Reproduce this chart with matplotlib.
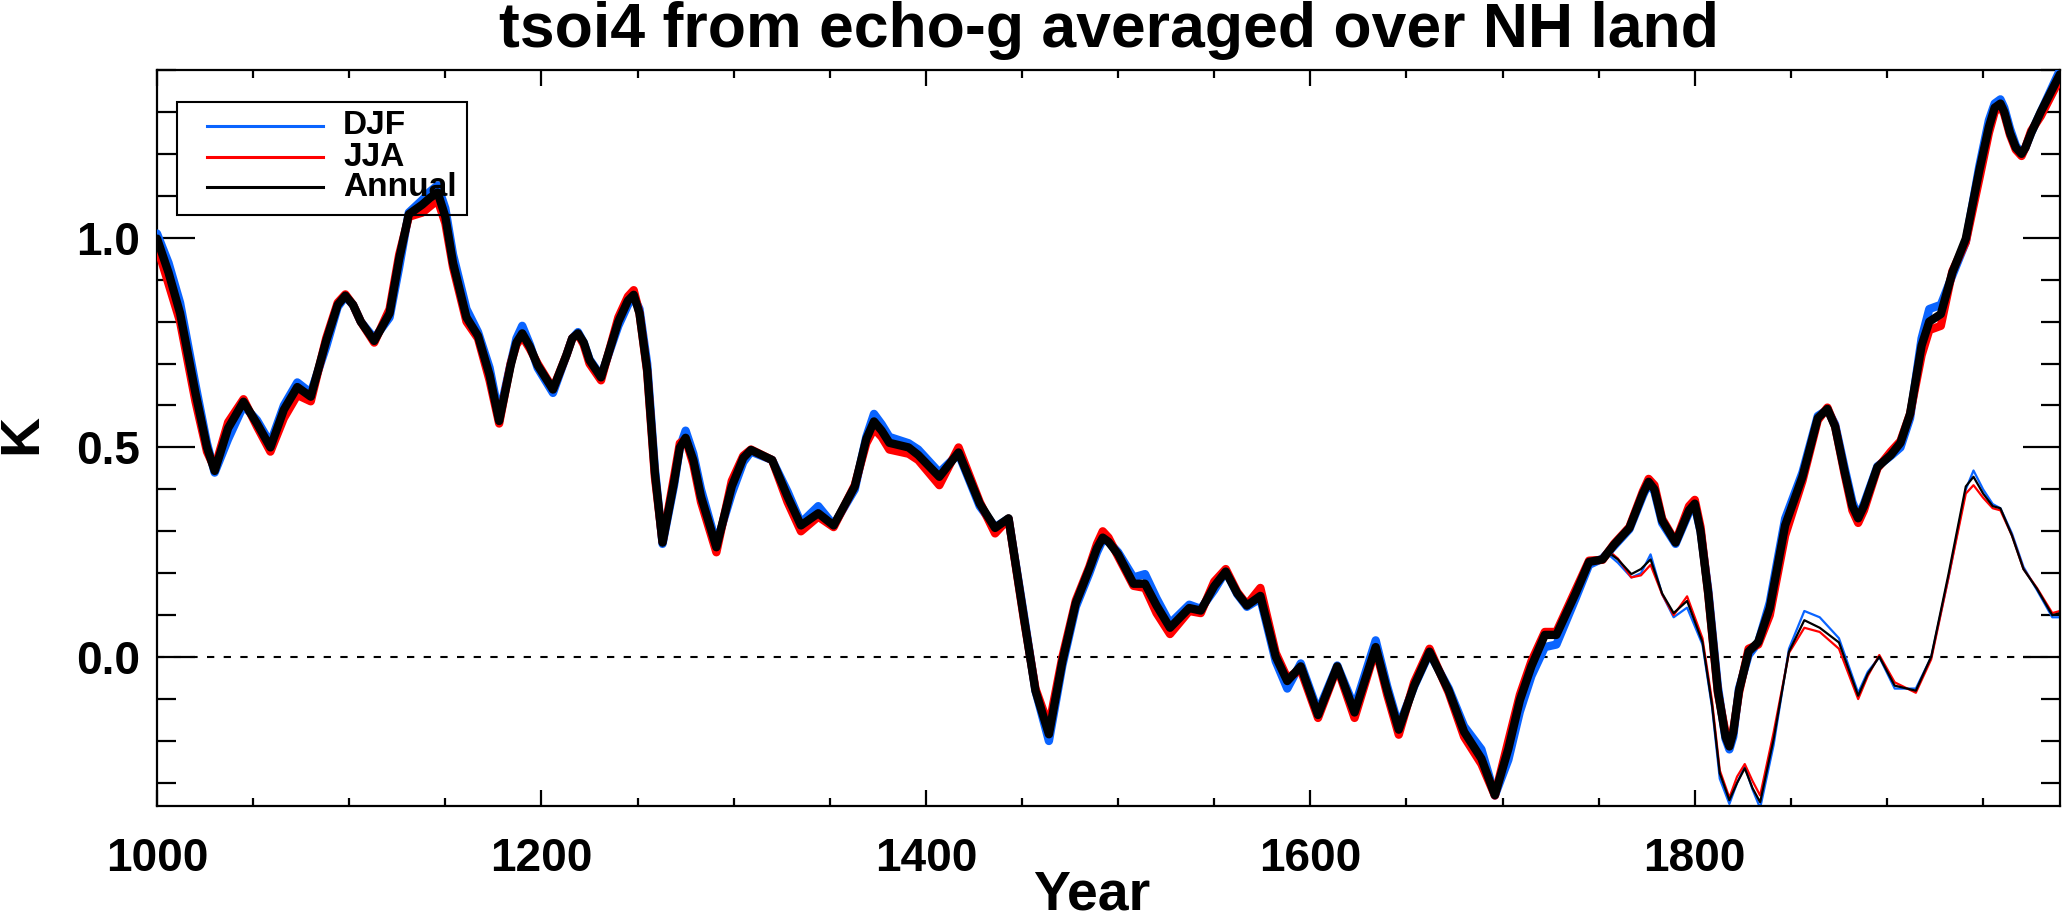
import numpy as np
import matplotlib
matplotlib.use('Agg')
import matplotlib.pyplot as plt
from matplotlib.ticker import MultipleLocator

# Smoothed NH land tsoi4 anomalies (K)
years = [1000, 1006, 1012, 1020, 1026, 1030, 1037, 1045, 1052, 1059,
         1066, 1073, 1080, 1088, 1094, 1098, 1102, 1106, 1113, 1121,
         1126, 1131, 1138, 1142, 1146, 1150, 1154, 1161, 1167, 1173,
         1178, 1184, 1187, 1190, 1194, 1198, 1206, 1213, 1216, 1219,
         1222, 1225, 1231, 1240, 1245, 1248, 1251, 1255, 1259, 1263,
         1269, 1272, 1275, 1279, 1283, 1291, 1299, 1305, 1309, 1320,
         1328, 1335, 1344, 1352, 1363, 1369, 1373, 1377, 1381, 1391,
         1396, 1407, 1417, 1428, 1436, 1443, 1451, 1457, 1464, 1471,
         1478, 1485, 1489, 1492, 1495, 1500, 1508, 1514, 1520, 1527,
         1537, 1543, 1550, 1556, 1562, 1567, 1574, 1582, 1588, 1595,
         1604, 1614, 1623, 1634, 1640, 1646, 1654, 1662, 1672, 1680,
         1689, 1696, 1703, 1709, 1715, 1722, 1728, 1738, 1745, 1752,
         1758, 1766, 1773, 1776, 1779, 1783, 1790, 1797, 1800, 1803,
         1807, 1812, 1816, 1818, 1820, 1823, 1828, 1833, 1839, 1847,
         1856, 1864, 1869, 1873, 1878, 1882, 1885, 1888, 1895, 1902,
         1907, 1912, 1918, 1922, 1928, 1934, 1941, 1948, 1953, 1956,
         1959, 1961, 1964, 1967, 1970, 1972, 1975, 1980, 1985, 1990]

annual = [0.998, 0.917, 0.82, 0.63, 0.50, 0.444, 0.546, 0.609, 0.557, 0.50,
          0.59, 0.644, 0.621, 0.754, 0.84, 0.862, 0.84, 0.80, 0.754, 0.82,
          0.95, 1.056, 1.079, 1.095, 1.108, 1.05, 0.94, 0.81, 0.766, 0.673,
          0.563, 0.696, 0.75, 0.772, 0.74, 0.696, 0.638, 0.72, 0.76, 0.772,
          0.75, 0.708, 0.667, 0.80, 0.85, 0.864, 0.82, 0.685, 0.44, 0.273,
          0.418, 0.50, 0.523, 0.47, 0.383, 0.262, 0.407, 0.475, 0.494, 0.47,
          0.383, 0.314, 0.343, 0.314, 0.407, 0.52, 0.562, 0.54, 0.511, 0.50,
          0.482, 0.43, 0.488, 0.366, 0.308, 0.331, 0.094, -0.08, -0.184, -0.01,
          0.129, 0.21, 0.26, 0.285, 0.275, 0.245, 0.175, 0.175, 0.123, 0.07,
          0.117, 0.111, 0.169, 0.204, 0.152, 0.123, 0.146, 0.001, -0.057, -0.022,
          -0.138, -0.022, -0.132, 0.024, -0.08, -0.173, -0.068, 0.013, -0.08, -0.178,
          -0.242, -0.329, -0.219, -0.103, -0.022, 0.053, 0.053, 0.152, 0.227, 0.233,
          0.268, 0.308, 0.39, 0.418, 0.40, 0.326, 0.273, 0.35, 0.366, 0.30,
          0.152, -0.08, -0.19, -0.213, -0.18, -0.08, 0.013, 0.036, 0.117, 0.314,
          0.43, 0.57, 0.592, 0.55, 0.441, 0.36, 0.331, 0.36, 0.453, 0.482,
          0.511, 0.58, 0.743, 0.80, 0.818, 0.917, 0.998, 1.16, 1.264, 1.31,
          1.32, 1.30, 1.25, 1.215, 1.20, 1.215, 1.25, 1.30, 1.345, 1.39]

djf = [1.01, 0.94, 0.845, 0.65, 0.51, 0.44, 0.52, 0.60, 0.565, 0.51,
       0.60, 0.655, 0.63, 0.74, 0.835, 0.86, 0.84, 0.80, 0.76, 0.81,
       0.93, 1.06, 1.09, 1.11, 1.125, 1.07, 0.96, 0.83, 0.775, 0.69,
       0.575, 0.70, 0.76, 0.79, 0.745, 0.69, 0.63, 0.72, 0.76, 0.775,
       0.75, 0.71, 0.67, 0.79, 0.84, 0.86, 0.83, 0.70, 0.45, 0.27,
       0.41, 0.50, 0.54, 0.485, 0.40, 0.27, 0.39, 0.465, 0.49, 0.47,
       0.395, 0.32, 0.36, 0.315, 0.40, 0.525, 0.58, 0.555, 0.525, 0.51,
       0.495, 0.44, 0.485, 0.36, 0.31, 0.33, 0.10, -0.08, -0.20, -0.02,
       0.12, 0.20, 0.25, 0.28, 0.275, 0.25, 0.19, 0.198, 0.14, 0.08,
       0.125, 0.115, 0.16, 0.205, 0.15, 0.12, 0.14, -0.01, -0.075, -0.015,
       -0.13, -0.02, -0.12, 0.04, -0.07, -0.165, -0.07, 0.01, -0.075, -0.165,
       -0.22, -0.33, -0.245, -0.13, -0.045, 0.024, 0.03, 0.14, 0.22, 0.235,
       0.265, 0.305, 0.385, 0.415, 0.395, 0.32, 0.27, 0.345, 0.36, 0.30,
       0.16, -0.07, -0.195, -0.22, -0.19, -0.075, 0.005, 0.035, 0.13, 0.33,
       0.44, 0.575, 0.59, 0.555, 0.45, 0.37, 0.335, 0.365, 0.455, 0.48,
       0.50, 0.57, 0.76, 0.83, 0.84, 0.91, 0.99, 1.17, 1.28, 1.32,
       1.33, 1.31, 1.26, 1.22, 1.20, 1.215, 1.25, 1.30, 1.35, 1.40]

jja = [0.98, 0.89, 0.80, 0.61, 0.49, 0.45, 0.56, 0.615, 0.55, 0.49,
       0.57, 0.625, 0.61, 0.76, 0.845, 0.865, 0.84, 0.80, 0.75, 0.83,
       0.96, 1.05, 1.06, 1.075, 1.09, 1.035, 0.93, 0.80, 0.76, 0.66,
       0.557, 0.70, 0.745, 0.765, 0.735, 0.70, 0.64, 0.72, 0.76, 0.77,
       0.745, 0.70, 0.66, 0.81, 0.86, 0.875, 0.82, 0.68, 0.43, 0.275,
       0.43, 0.51, 0.52, 0.46, 0.37, 0.25, 0.42, 0.48, 0.495, 0.47,
       0.37, 0.30, 0.335, 0.31, 0.41, 0.51, 0.545, 0.525, 0.495, 0.485,
       0.47, 0.41, 0.50, 0.37, 0.295, 0.33, 0.09, -0.075, -0.165, 0.0,
       0.135, 0.215, 0.27, 0.30, 0.285, 0.24, 0.17, 0.165, 0.105, 0.055,
       0.11, 0.105, 0.18, 0.21, 0.155, 0.125, 0.165, 0.01, -0.05, -0.03,
       -0.145, -0.025, -0.145, 0.02, -0.09, -0.185, -0.06, 0.02, -0.085, -0.19,
       -0.255, -0.33, -0.20, -0.09, -0.01, 0.06, 0.06, 0.16, 0.23, 0.232,
       0.27, 0.31, 0.395, 0.425, 0.41, 0.33, 0.275, 0.36, 0.375, 0.31,
       0.15, -0.085, -0.18, -0.205, -0.175, -0.085, 0.02, 0.03, 0.10, 0.29,
       0.42, 0.565, 0.595, 0.55, 0.435, 0.35, 0.32, 0.35, 0.45, 0.49,
       0.515, 0.58, 0.72, 0.78, 0.79, 0.92, 0.99, 1.14, 1.25, 1.30,
       1.315, 1.295, 1.245, 1.21, 1.195, 1.215, 1.255, 1.29, 1.335, 1.38]

# Second (thin) set of curves, from 1750 on
years_thin = [1750, 1755, 1760, 1767, 1772, 1777, 1783, 1789, 1796, 1804,
              1809, 1813, 1818, 1822, 1826, 1830, 1834, 1841, 1849, 1857,
              1865, 1875, 1885, 1890, 1896, 1904, 1915, 1923, 1932, 1941,
              1945, 1950, 1955, 1959, 1965, 1971, 1978, 1986, 1990]

annual_thin = [0.232, 0.25, 0.233, 0.198, 0.21, 0.233, 0.152, 0.105, 0.134, 0.036,
               -0.115, -0.277, -0.341, -0.30, -0.265, -0.312, -0.346, -0.196, 0.013, 0.088,
               0.07, 0.035, -0.092, -0.04, 0.001, -0.068, -0.08, 0.001, 0.198, 0.407,
               0.43, 0.39, 0.36, 0.355, 0.29, 0.21, 0.163, 0.10, 0.105]

djf_thin = [0.232, 0.245, 0.225, 0.19, 0.20, 0.245, 0.15, 0.095, 0.118, 0.03,
            -0.12, -0.29, -0.35, -0.30, -0.26, -0.315, -0.36, -0.21, 0.02, 0.11,
            0.095, 0.045, -0.085, -0.035, 0.0, -0.075, -0.075, 0.0, 0.19, 0.40,
            0.445, 0.40, 0.365, 0.355, 0.295, 0.215, 0.16, 0.095, 0.095]

jja_thin = [0.232, 0.255, 0.235, 0.19, 0.195, 0.22, 0.15, 0.10, 0.145, 0.045,
            -0.105, -0.27, -0.335, -0.285, -0.255, -0.295, -0.33, -0.18, 0.01, 0.07,
            0.06, 0.02, -0.10, -0.045, 0.005, -0.06, -0.085, -0.005, 0.19, 0.39,
            0.41, 0.38, 0.355, 0.35, 0.29, 0.21, 0.165, 0.105, 0.11]

labels = ['DJF', 'JJA', 'Annual']
colors = ['#0a64ff', '#ff0000', '#000000']

W, H = 2064, 923
AX_L, AX_R, AX_T, AX_B = 157, 2060, 70, 806  # axes box in pixels


def px2ax(x, y):
    # pixel position (from top-left) -> axes fraction
    return (x - AX_L) / (AX_R - AX_L), (AX_B - y) / (AX_B - AX_T)


def main():
    plt.rcParams['font.family'] = ['Liberation Sans', 'DejaVu Sans']
    plt.rcParams['font.weight'] = 'bold'

    fig = plt.figure(figsize=(W / 100, H / 100), dpi=100)
    ax = fig.add_axes([AX_L / W, 1 - AX_B / H, (AX_R - AX_L) / W, (AX_B - AX_T) / H])

    ax.axhline(0, color='black', lw=1.5, dashes=(3.5, 4.5), zorder=1)

    thick = [djf, jja, annual]
    thin = [djf_thin, jja_thin, annual_thin]
    for series, col in zip(thin, colors):
        ax.plot(years_thin, series, color=col, lw=1.6, zorder=2,
                solid_joinstyle='round')
    for series, col in zip(thick, colors):
        ax.plot(years, series, color=col, lw=6.0, zorder=3,
                solid_joinstyle='round', solid_capstyle='round')

    ax.set_xlim(1000, 1990)
    ax.set_ylim(-0.355, 1.40)
    ax.xaxis.set_major_locator(MultipleLocator(200))
    ax.xaxis.set_minor_locator(MultipleLocator(50))
    ax.yaxis.set_minor_locator(MultipleLocator(0.1))
    ax.set_yticks([0.0, 0.5, 1.0])
    ax.set_yticklabels(['0.0', '0.5', '1.0'])

    for s in ax.spines.values():
        s.set_linewidth(1.6)
    ax.tick_params(which='both', direction='in', top=True, right=True, width=1.6)
    ax.tick_params(axis='x', which='major', length=11.5, pad=22, labelsize=33)
    ax.tick_params(axis='x', which='minor', length=5.8)
    ax.tick_params(axis='y', which='major', length=27, pad=12, labelsize=33)
    ax.tick_params(axis='y', which='minor', length=13.7)

    # legend drawn by hand, IDL style
    x0, y0 = px2ax(177, 215)
    x1, y1 = px2ax(467, 102)
    ax.add_patch(plt.Rectangle((x0, y0), x1 - x0, y1 - y0, transform=ax.transAxes,
                               fill=False, lw=1.5, ec='black', zorder=5))
    for lab, col, yp in zip(labels, colors, [126, 157, 187]):
        lx0, ly = px2ax(207, yp)
        lx1, _ = px2ax(323, yp)
        tx, _ = px2ax(343, yp)
        ax.plot([lx0, lx1], [ly, ly], color=col, lw=2.2, transform=ax.transAxes, zorder=6)
        ax.text(tx, ly, lab, transform=ax.transAxes, fontsize=24, fontweight='bold',
                va='center', ha='left', zorder=6)

    fig.text((AX_L + AX_R) / 2 / W, 1 - 47 / H, 'tsoi4 from echo-g averaged over NH land',
             ha='center', va='baseline', fontsize=45, fontweight='bold')
    fig.text(1092 / W, 1 - 909 / H, 'Year', ha='center', va='baseline',
             fontsize=40, fontweight='bold')
    fig.text(22 / W, 1 - 434 / H, 'K', ha='center', va='center', rotation=90,
             fontsize=40, fontweight='bold')

    fig.savefig('out.png', dpi=100)
    plt.close(fig)


if __name__ == "__main__":
    main()
